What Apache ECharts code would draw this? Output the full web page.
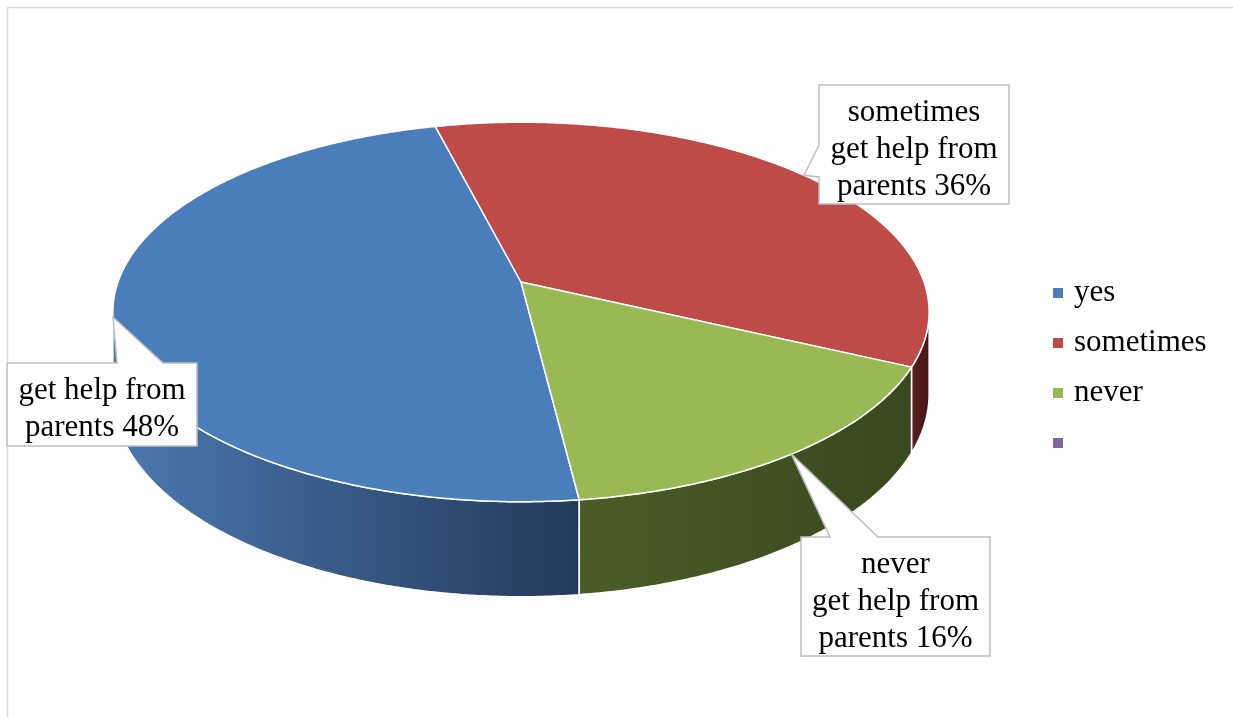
<!DOCTYPE html>
<html>
<head>
<meta charset="utf-8">
<script src="https://cdn.jsdelivr.net/npm/echarts@6/dist/echarts.min.js"></script>
<style>
html,body{margin:0;padding:0;background:#fff;}
#chart{width:1233px;height:717px;}
</style>
</head>
<body>
<div id="chart"></div>
<script>
// ---- data ----
const categories = ['yes', 'sometimes', 'never', ' '];
const values = [48, 36, 16, 0];
const labelPrefixes = ['', 'sometimes', 'never', ''];
const labelCore = 'get help from';
const labelTail = 'parents';

// ---- style / layout ----
const FONT = '"Liberation Serif", "Times New Roman", serif';
const topColors = ['#4a7ebb', '#be4b48', '#98b954', '#7f63a1'];
const sideColors = [['#4b79b0', '#233a5b'], ['#5a1f1f', '#481616'], ['#4b5d27', '#39481e'], ['#5e4a78', '#3f3150']];
const G = { cx: 521, cy: 282, A: 403, B: 185, k: 0.158, D: 80, start: 83 };
const labelBoxes = [
  { x0: 7, y0: 363, x1: 197, y1: 446, side: 'top', p: 117, q: 163 },
  { x0: 819, y0: 85, x1: 1009, y1: 204, side: 'left', p: 145, q: 177 },
  { x0: 801, y0: 537, x1: 990, y1: 656, side: 'top', p: 830, q: 878 },
  null
];

function proj(deg, h) {
  const t = deg * Math.PI / 180;
  const u = Math.cos(t), v = Math.sin(t);
  const w = 1 - G.k * v;
  return [G.cx + G.A * u / w, G.cy + (G.B * v + G.D * h) / w];
}
function arc(a0, a1, h) {
  const pts = [];
  const n = Math.max(2, Math.ceil(Math.abs(a1 - a0) / 0.5));
  for (let i = 0; i <= n; i++) pts.push(proj(a0 + (a1 - a0) * i / n, h));
  return pts;
}
function sliceRange(i) {
  const total = values.reduce((a, b) => a + b, 0);
  let before = 0;
  for (let j = 0; j < i; j++) before += values[j];
  const s = G.start + 360 * before / total;
  return [s, s + 360 * values[i] / total];
}

function makeRender(i) {
  return function (params, api) {
    const val = api.value(0);
    if (!val) return { type: 'group', children: [] };
    const [s, e] = sliceRange(i);
    const children = [];
    const lim = Math.asin(G.k) * 180 / Math.PI;
    for (let m = -1; m <= 2; m++) {
      const lo = Math.max(s, 360 * m + lim);
      const hi = Math.min(e, 360 * m + 180 - lim);
      if (hi > lo) {
        const pts = arc(lo, hi, 0).concat(arc(hi, lo, 1));
        let minX = Infinity, maxX = -Infinity;
        pts.forEach(p => { minX = Math.min(minX, p[0]); maxX = Math.max(maxX, p[0]); });
        children.push({
          type: 'polygon',
          shape: { points: pts },
          style: {
            fill: {
              type: 'linear', x: minX, y: 0, x2: maxX + 0.01, y2: 0, global: true,
              colorStops: [{ offset: 0, color: sideColors[i][0] }, { offset: 1, color: sideColors[i][1] }]
            },
            stroke: '#ffffff', lineWidth: 1.5
          }
        });
      }
    }
    const topPts = [[G.cx, G.cy]].concat(arc(s, e, 0));
    children.push({
      type: 'polygon',
      shape: { points: topPts },
      style: { fill: topColors[i], stroke: '#ffffff', lineWidth: 1.5, lineJoin: 'round' }
    });
    const b = labelBoxes[i];
    if (b) {
      const tip = proj((s + e) / 2, 0);
      let pts;
      if (b.side === 'top') {
        pts = [[b.x0, b.y0], [b.p, b.y0], tip, [b.q, b.y0], [b.x1, b.y0], [b.x1, b.y1], [b.x0, b.y1]];
      } else {
        pts = [[b.x0, b.y0], [b.x1, b.y0], [b.x1, b.y1], [b.x0, b.y1], [b.x0, b.q], tip, [b.x0, b.p]];
      }
      const total = values.reduce((a, c) => a + c, 0);
      const pct = Math.round(val / total * 100);
      const lines = [];
      if (labelPrefixes[i]) lines.push(labelPrefixes[i]);
      lines.push(labelCore);
      lines.push(labelTail + ' ' + pct + '%');
      children.push({
        type: 'polygon', z2: 100,
        shape: { points: pts },
        style: { fill: '#ffffff', stroke: '#bfbfbf', lineWidth: 1.5 }
      });
      children.push({
        type: 'text', z2: 101,
        x: (b.x0 + b.x1) / 2, y: (b.y0 + b.y1) / 2 + 5,
        style: {
          text: lines.join('\n'), fontSize: 31, fontFamily: FONT, fill: '#000000',
          align: 'center', verticalAlign: 'middle', lineHeight: 37
        }
      });
    }
    return { type: 'group', children };
  };
}

const chart = echarts.init(document.getElementById('chart'), null, { renderer: 'canvas' });
chart.setOption({
  animation: false,
  backgroundColor: '#ffffff',
  legend: {
    orient: 'vertical', left: 1053, top: 276, icon: 'rect',
    itemWidth: 10, itemHeight: 10, itemGap: 16, padding: 0, selectedMode: false,
    textStyle: { fontFamily: FONT, fontSize: 31, color: '#000000', lineHeight: 34, padding: [0, 0, 0, 6] },
    data: categories
  },
  graphic: [
    { type: 'line', shape: { x1: 7, y1: 7.5, x2: 1233, y2: 7.5 }, style: { stroke: '#d9d9d9', lineWidth: 1.5 }, silent: true },
    { type: 'line', shape: { x1: 7.5, y1: 7, x2: 7.5, y2: 717 }, style: { stroke: '#d9d9d9', lineWidth: 1.5 }, silent: true }
  ],
  series: categories.map((name, i) => ({
    type: 'custom',
    name: name,
    coordinateSystem: 'none',
    silent: true,
    itemStyle: { color: topColors[i] },
    data: [values[i]],
    renderItem: makeRender(i)
  }))
});
</script>
</body>
</html>
